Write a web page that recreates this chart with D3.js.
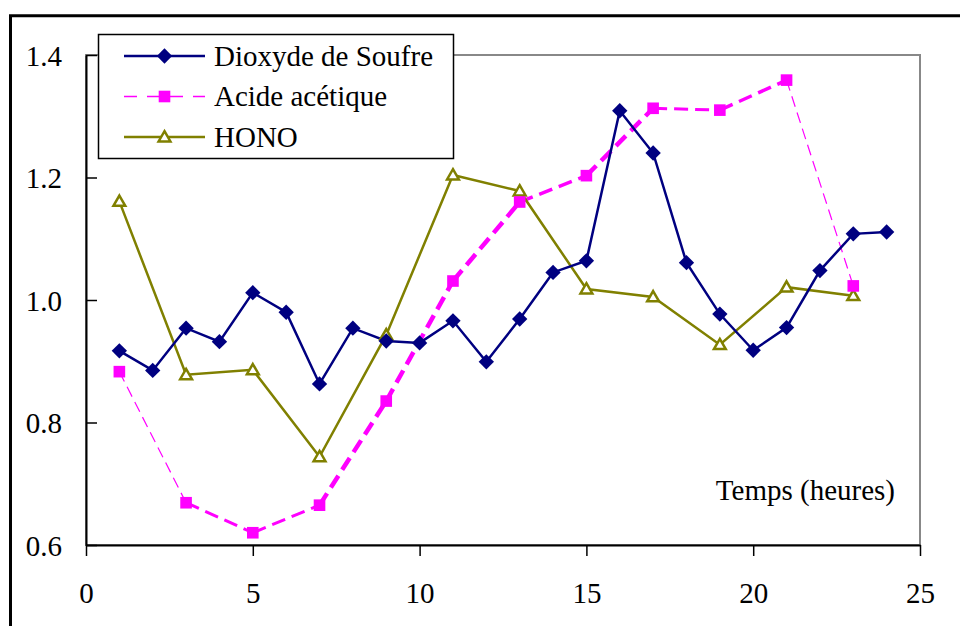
<!DOCTYPE html>
<html>
<head>
<meta charset="utf-8">
<script src="https://cdn.jsdelivr.net/npm/d3@7"></script>
<style>
  html, body { margin: 0; padding: 0; background: #fff; }
  svg { display: block; }
  svg text { font-family: "Liberation Serif", "Times New Roman", serif; font-size: 29px; fill: #000; }
</style>
</head>
<body>
<svg id="chart" width="960" height="626"></svg>
<script>
// Hours of measurement
const hoursSO2 = [1,2,3,4,5,6,7,8,9,10,11,12,13,14,15,16,17,18,19,20,21,22,23,24];
const hoursOdd = [1,3,5,7,9,11,13,15,17,19,21,23];

// Normalised concentrations
const dioxydeSoufre = [0.917,0.885,0.954,0.932,1.012,0.980,0.863,0.954,0.933,0.930,0.966,0.899,
                       0.969,1.045,1.064,1.309,1.240,1.061,0.977,0.918,0.955,1.048,1.108,1.111];
const acideAcetique = [0.883,0.669,0.620,0.665,0.835,1.031,1.160,1.203,1.313,1.310,1.359,1.023];
const hono          = [1.161,0.878,0.886,0.744,0.943,1.204,1.178,1.018,1.005,0.927,1.021,1.007];

const seriesNames = ["Dioxyde de Soufre", "Acide acétique", "HONO"];
const xTicks = [0, 5, 10, 15, 20, 25];
const yTicks = [0.6, 0.8, 1.0, 1.2, 1.4];
const xLabel = "Temps (heures)";

// stroke width of each dashed segment of the acetic acid curve
const acidSegWidths = [1.2, 3, 3, 4.5, 4.5, 4.5, 3.5, 4.5, 3, 3.5, 1.2];

const NAVY = "#000080", MAGENTA = "#FF00FF", OLIVE = "#808000";
const SERIF = '"Liberation Serif", "Times New Roman", serif';

const svg = d3.select("#chart");
const plot = { left: 86, top: 55, right: 920, bottom: 545 };

const x = d3.scaleLinear().domain([0, 25]).range([plot.left, plot.right]);
const y = d3.scaleLinear().domain([0.6, 1.4]).range([plot.bottom, plot.top]);

// outer frame (left and top edges)
svg.append("line").attr("x1", 10.5).attr("x2", 10.5).attr("y1", 15.5).attr("y2", 640)
  .attr("stroke", "#000").attr("stroke-width", 3);
svg.append("line").attr("x1", 9).attr("x2", 960).attr("y1", 15.8).attr("y2", 15.8)
  .attr("stroke", "#000").attr("stroke-width", 3);

// plot area border
svg.append("rect")
  .attr("x", plot.left).attr("y", plot.top)
  .attr("width", plot.right - plot.left).attr("height", plot.bottom - plot.top)
  .attr("fill", "none").attr("stroke", "#888").attr("stroke-width", 2);

// axes
const xAxis = svg.append("g").attr("transform", `translate(0,${plot.bottom})`)
  .call(d3.axisBottom(x).tickValues(xTicks).tickSize(11).tickSizeOuter(0).tickPadding(26)
        .tickFormat(d3.format("d")));
const yAxis = svg.append("g").attr("transform", `translate(${plot.left},0)`)
  .call(d3.axisLeft(y).tickValues(yTicks).tickSize(-11).tickSizeOuter(0).tickPadding(24)
        .tickFormat(d3.format(".1f")));
[xAxis, yAxis].forEach(g => {
  g.attr("font-family", SERIF).attr("font-size", 29);
  g.select(".domain").attr("stroke", "#000").attr("stroke-width", 2);
  g.selectAll(".tick line").attr("stroke", "#000").attr("stroke-width", 1.5);
  g.selectAll(".tick text").attr("fill", "#000");
});
yAxis.selectAll(".tick text").attr("dy", "0.35em");

// axis title
svg.append("text").attr("x", 895).attr("y", 500).attr("text-anchor", "end").text(xLabel);

// markers
const diamond = d3.symbol().type(d3.symbolDiamond2).size(150);
const square = d3.symbol().type(d3.symbolSquare).size(135);
const triangle = d3.symbol().type(d3.symbolTriangle2).size(100);

// acetic acid: dashed segments of varying weight
const acidPts = hoursOdd.map((h, i) => [h, acideAcetique[i]]);
for (let i = 0; i < acidPts.length - 1; i++) {
  const w = acidSegWidths[i];
  svg.append("line")
    .attr("x1", x(acidPts[i][0])).attr("y1", y(acidPts[i][1]))
    .attr("x2", x(acidPts[i + 1][0])).attr("y2", y(acidPts[i + 1][1]))
    .attr("stroke", MAGENTA).attr("stroke-width", w)
    .attr("stroke-dasharray", w > 2 ? "14,7" : "11,6");
}

// HONO
const line = d3.line().x(d => x(d[0])).y(d => y(d[1]));
const honoPts = hoursOdd.map((h, i) => [h, hono[i]]);
svg.append("path").datum(honoPts).attr("d", line)
  .attr("fill", "none").attr("stroke", OLIVE).attr("stroke-width", 2.5);

// sulphur dioxide
const so2Pts = hoursSO2.map((h, i) => [h, dioxydeSoufre[i]]);
svg.append("path").datum(so2Pts).attr("d", line)
  .attr("fill", "none").attr("stroke", NAVY).attr("stroke-width", 2.5);

svg.append("g").selectAll("path").data(honoPts).join("path")
  .attr("transform", d => `translate(${x(d[0])},${y(d[1]) + 1})`)
  .attr("d", triangle).attr("fill", "#fff").attr("stroke", OLIVE).attr("stroke-width", 2.5);
svg.append("g").selectAll("path").data(acidPts).join("path")
  .attr("transform", d => `translate(${x(d[0])},${y(d[1])})`)
  .attr("d", square).attr("fill", MAGENTA);
svg.append("g").selectAll("path").data(so2Pts).join("path")
  .attr("transform", d => `translate(${x(d[0])},${y(d[1])})`)
  .attr("d", diamond).attr("fill", NAVY);

// legend
const legend = svg.append("g");
legend.append("rect").attr("x", 98.5).attr("y", 34.5).attr("width", 355).attr("height", 124)
  .attr("fill", "#fff").attr("stroke", "#000").attr("stroke-width", 1.5);
const legendRows = [
  { name: seriesNames[0], color: NAVY, marker: diamond, dash: null, w: 2.5, fill: NAVY },
  { name: seriesNames[1], color: MAGENTA, marker: square, dash: "13,10", w: 1.5, fill: MAGENTA },
  { name: seriesNames[2], color: OLIVE, marker: triangle, dash: null, w: 2.5, fill: "#fff" }
];
legendRows.forEach((r, i) => {
  const cy = 56 + i * 40.5;
  legend.append("line").attr("x1", 124).attr("x2", 205).attr("y1", cy).attr("y2", cy)
    .attr("stroke", r.color).attr("stroke-width", r.w)
    .attr("stroke-dasharray", r.dash);
  legend.append("path").attr("transform", `translate(164.5,${cy + (r.marker === triangle ? 1 : 0)})`)
    .attr("d", r.marker).attr("fill", r.fill)
    .attr("stroke", r.marker === triangle ? r.color : "none").attr("stroke-width", 2.5);
  legend.append("text").attr("x", 214).attr("y", cy + 9.5).text(r.name);
});
</script>
</body>
</html>
